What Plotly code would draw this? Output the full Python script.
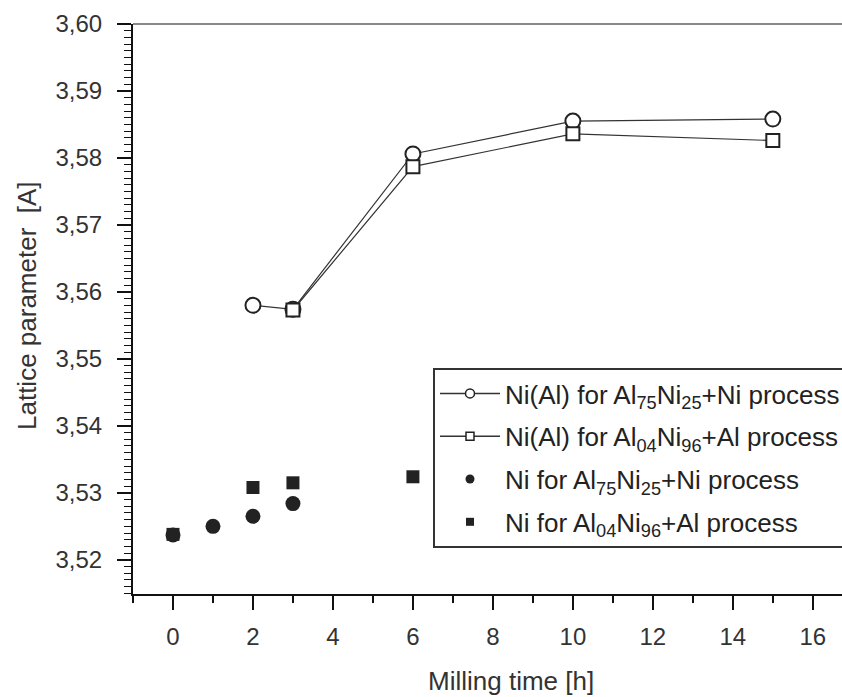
import plotly.graph_objects as go

# ---- data ----
t_nial_a = [2, 3, 6, 10, 15]
a_nial_a = [3.5580, 3.5574, 3.5806, 3.5855, 3.5858]

t_nial_b = [3, 6, 10, 15]
a_nial_b = [3.5573, 3.5787, 3.5836, 3.5826]

t_ni_a = [0, 1, 2, 3]
a_ni_a = [3.5237, 3.5250, 3.5265, 3.5284]

t_ni_b = [0, 2, 3, 6]
a_ni_b = [3.5238, 3.5308, 3.5315, 3.5324]

names = [
    "Ni(Al) for Al<sub>75</sub>Ni<sub>25</sub>+Ni process",
    "Ni(Al) for Al<sub>04</sub>Ni<sub>96</sub>+Al process",
    "Ni for Al<sub>75</sub>Ni<sub>25</sub>+Ni process",
    "Ni for Al<sub>04</sub>Ni<sub>96</sub>+Al process",
]

x_ticks = [0, 2, 4, 6, 8, 10, 12, 14, 16]
y_ticks = [3.52, 3.53, 3.54, 3.55, 3.56, 3.57, 3.58, 3.59, 3.60]

INK = "#222222"
TXT = "#333333"
FONT = "Liberation Sans, Arial, sans-serif"

fig = go.Figure()

# data traces (hidden from legend)
fig.add_trace(go.Scatter(x=t_nial_a, y=a_nial_a, mode="lines+markers", showlegend=False,
                         line=dict(color="#333333", width=1.2),
                         marker=dict(symbol="circle", size=15, color="white", line=dict(width=2, color=INK))))
fig.add_trace(go.Scatter(x=t_nial_b, y=a_nial_b, mode="lines+markers", showlegend=False,
                         line=dict(color="#333333", width=1.2),
                         marker=dict(symbol="square", size=13, color="white", line=dict(width=2, color=INK))))
fig.add_trace(go.Scatter(x=t_ni_a, y=a_ni_a, mode="markers", showlegend=False,
                         marker=dict(symbol="circle", size=15, color=INK)))
fig.add_trace(go.Scatter(x=t_ni_b, y=a_ni_b, mode="markers", showlegend=False,
                         marker=dict(symbol="square", size=13, color=INK)))

# legend-only entries with small symbols
fig.add_trace(go.Scatter(x=[None], y=[None], mode="lines+markers", name=names[0], legendgroup="g1",
                         line=dict(color="#333333", width=1.5),
                         marker=dict(symbol="circle", size=9, color="white", line=dict(width=1.5, color=INK))))
fig.add_trace(go.Scatter(x=[None], y=[None], mode="lines+markers", name=names[1], legendgroup="g2",
                         line=dict(color="#333333", width=1.5),
                         marker=dict(symbol="square", size=8, color="white", line=dict(width=1.5, color=INK))))
fig.add_trace(go.Scatter(x=[None], y=[None], mode="markers", name=names[2], legendgroup="g3",
                         marker=dict(symbol="circle", size=9, color=INK)))
fig.add_trace(go.Scatter(x=[None], y=[None], mode="markers", name=names[3], legendgroup="g4",
                         marker=dict(symbol="square", size=8, color=INK)))

L, T, B = 133, 24, 103
W, H = 842, 697
pw = W - L
ph = H - T - B

fig.update_layout(
    width=W, height=H,
    margin=dict(l=L, r=0, t=T, b=B, autoexpand=False),
    paper_bgcolor="white", plot_bgcolor="white",
    separators=",.",
    font=dict(family=FONT, size=22, color=INK),
    showlegend=True,
    legend=dict(
        x=(433 - L) / pw, y=(H - B - 368) / ph, xanchor="left", yanchor="top",
        bgcolor="white", bordercolor="#333333", borderwidth=2,
        font=dict(family=FONT, size=26, color=INK),
        itemwidth=60, tracegroupgap=6, traceorder="grouped",
    ),
    xaxis=dict(
        range=[-1, 16.73], tickvals=x_ticks, ticktext=[str(v) for v in x_ticks],
        showgrid=False, zeroline=False, showline=True, linecolor="#111111", linewidth=2,
        ticks="outside", ticklen=14, tickwidth=2, tickcolor="#111111",
        ticklabelstandoff=6, automargin=False,
        minor=dict(dtick=1, tick0=-1, ticks="outside", ticklen=7, tickwidth=1.5, tickcolor="#111111"),
        tickfont=dict(family=FONT, size=24, color=TXT),
    ),
    yaxis=dict(
        range=[3.5149, 3.6], tickvals=y_ticks, tickformat=".2f",
        showgrid=False, zeroline=False, showline=True, linecolor="#111111", linewidth=2,
        ticks="outside", ticklen=14, tickwidth=2, tickcolor="#111111",
        ticklabelstandoff=10, automargin=False,
        minor=dict(dtick=0.001, tick0=3.52, ticks="outside", ticklen=7, tickwidth=1.2, tickcolor="#111111"),
        tickfont=dict(family=FONT, size=24, color=TXT),
    ),
    shapes=[dict(type="line", xref="paper", yref="paper", x0=0, x1=1, y0=1, y1=1,
                 line=dict(color="#888888", width=2))],
    annotations=[
        dict(text="Milling time [h]", xref="paper", yref="paper",
             x=(511 - L) / pw, y=(H - B - 681) / ph, xanchor="center", yanchor="middle",
             showarrow=False, font=dict(family=FONT, size=26, color=TXT)),
        dict(text="Lattice parameter  [A]", xref="paper", yref="paper",
             x=(27 - L) / pw, y=(H - B - 306) / ph, xanchor="center", yanchor="middle",
             textangle=-90, showarrow=False, font=dict(family=FONT, size=26, color=TXT)),
    ],
)

fig.write_html("out.html")
